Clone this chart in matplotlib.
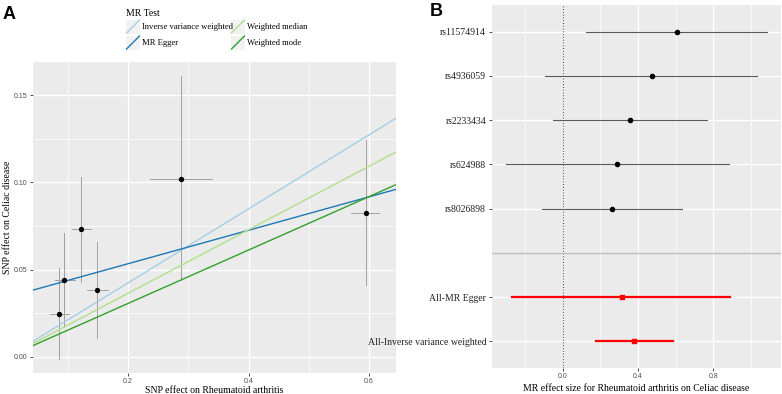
import numpy as np
import matplotlib.pyplot as plt
from matplotlib.lines import Line2D
from matplotlib.patches import Rectangle

# ---- panel A data: SNP effects on exposure (RA) and outcome (Celiac)
bx = [0.0855, 0.0938, 0.1217, 0.148, 0.2878, 0.5945]
bx_lo = [0.070, 0.078, 0.106, 0.131, 0.237, 0.571]
bx_hi = [0.102, 0.112, 0.138, 0.166, 0.339, 0.617]
by = [0.0245, 0.044, 0.0732, 0.038, 0.1017, 0.0822]
by_lo = [-0.0015, 0.017, 0.043, 0.0107, 0.044, 0.041]
by_hi = [0.051, 0.0707, 0.103, 0.066, 0.161, 0.124]

methods = ["Inverse variance weighted", "MR Egger", "Weighted median", "Weighted mode"]
slopes = [0.212, 0.0958, 0.182, 0.153]
intercepts = [0.0, 0.0342, 0.0, 0.0]
colors = ["#A6CEE3", "#1F78B4", "#B2DF8A", "#33A02C"]

# ---- panel B data: forest plot
labels = ["All-Inverse variance weighted", "All-MR Egger", "",
          "rs8026898", "rs624988", "rs2233434", "rs4936059", "rs11574914"]
est = [0.38, 0.313, np.nan, 0.26, 0.288, 0.356, 0.473, 0.605]
lo = [0.175, -0.268, np.nan, -0.112, -0.305, -0.051, -0.094, 0.122]
hi = [0.584, 0.889, np.nan, 0.635, 0.885, 0.765, 1.035, 1.087]

serif = "Liberation Serif"
sans = "Liberation Sans"
bg = "#EBEBEB"
W, H = 782, 394

fig = plt.figure(figsize=(W / 100, H / 100), dpi=100)


def px_axes(x0, y0, x1, y1):
    return fig.add_axes([x0 / W, 1 - y1 / H, (x1 - x0) / W, (y1 - y0) / H])


def gg_style(ax):
    ax.set_facecolor(bg)
    for s in ax.spines.values():
        s.set_visible(False)
    ax.grid(True, which="major", color="white", lw=1.0)
    ax.grid(True, which="minor", color="white", lw=0.5)
    ax.set_axisbelow(True)
    ax.tick_params(which="major", length=2.2, width=0.6, color="#333333",
                   labelsize=5.0, labelcolor="#4D4D4D", pad=1.5)
    ax.tick_params(which="minor", length=0)
    for t in ax.get_xticklabels() + ax.get_yticklabels():
        t.set_family(sans)


# ---------------- Panel A
axA = px_axes(33, 62, 396, 373)
xmin, xmax = 0.042, 0.645
axA.set_xlim(xmin, xmax)
axA.set_ylim(-0.0093, 0.169)
axA.set_xticks([0.2, 0.4, 0.6])
axA.set_xticks([0.1, 0.3, 0.5], minor=True)
axA.set_yticks([0.0, 0.05, 0.10, 0.15])
axA.set_yticks([0.025, 0.075, 0.125], minor=True)
axA.set_xticklabels(["0.2", "0.4", "0.6"])
axA.set_yticklabels(["0.00", "0.05", "0.10", "0.15"])
gg_style(axA)

for i in range(len(bx)):
    axA.plot([bx[i], bx[i]], [by_lo[i], by_hi[i]], color="#A0A0A0", lw=0.7, zorder=2)
    axA.plot([bx_lo[i], bx_hi[i]], [by[i], by[i]], color="#A0A0A0", lw=0.7, zorder=2)

xs = np.array([xmin, xmax])
for m, b, a, c in zip(methods, slopes, intercepts, colors):
    axA.plot(xs, a + b * xs, color=c, lw=1.0, zorder=3)

axA.scatter(bx, by, s=8, color="black", zorder=4)
axA.set_xlabel("SNP effect on Rheumatoid arthritis", family=serif, fontsize=7, labelpad=0.5)
axA.set_ylabel("SNP effect on Celiac disease", family=serif, fontsize=7)
axA.yaxis.set_label_coords(-0.058, 0.5)

# ---------------- Panel B
axB = px_axes(492, 5, 781, 368)
axB.set_xlim(-0.377, 1.16)
axB.set_ylim(0.4, 8.6)
pos = np.arange(1, len(labels) + 1)
axB.set_xticks([0.0, 0.4, 0.8])
axB.set_xticks([-0.2, 0.2, 0.6, 1.0], minor=True)
axB.set_xticklabels(["0.0", "0.4", "0.8"])
keep = [i for i in range(len(labels)) if labels[i]]
axB.set_yticks(pos[keep])
axB.set_yticklabels([labels[i] for i in keep])
gg_style(axB)
axB.grid(False, which="minor", axis="y")
axB.tick_params(axis="y", labelsize=7, labelcolor="#222222", pad=2)
for t in axB.get_yticklabels():
    t.set_family(serif)

axB.axvline(0, color="#555555", lw=0.8, ls=(0, (1, 1.5)), zorder=2)
axB.axhline(3, color="#BEBEBE", lw=1.0, zorder=2)
for i in range(len(labels)):
    if np.isnan(est[i]):
        continue
    if labels[i].startswith("All"):
        axB.plot([lo[i], hi[i]], [pos[i], pos[i]], color="#FF0000", lw=1.6, zorder=3)
        axB.scatter([est[i]], [pos[i]], marker="s", s=9, color="#FF0000", zorder=4)
    else:
        axB.plot([lo[i], hi[i]], [pos[i], pos[i]], color="#5A5A5A", lw=0.8, zorder=3)
        axB.scatter([est[i]], [pos[i]], s=9, color="black", zorder=4)

axB.set_xlabel("MR effect size for Rheumatoid arthritis on Celiac disease",
               family=serif, fontsize=7, labelpad=3)

# ---------------- legend and panel letters
ov = fig.add_axes([0, 0, 1, 1], facecolor="none")
ov.set_xlim(0, W)
ov.set_ylim(H, 0)
ov.axis("off")
ov.text(126, 13, "MR Test", family=serif, fontsize=7, va="center", ha="left")
key_pos = [(126, 26.5), (126, 42.5), (231, 26.5), (231, 42.5)]
for (kx, ky), m, c in zip(key_pos, methods, colors):
    ov.add_patch(Rectangle((kx, ky - 7), 14, 14, facecolor="#F2F2F2", edgecolor="none"))
    ov.add_line(Line2D([kx + 0.5, kx + 13.5], [ky + 6.5, ky - 6.5], color=c, lw=1.0))
    ov.text(kx + 16, ky, m, family=serif, fontsize=6.2, va="center", ha="left")

ov.text(3, 14, "A", family=sans, fontweight="bold", fontsize=13, va="center", ha="left")
ov.text(430, 11, "B", family=sans, fontweight="bold", fontsize=13, va="center", ha="left")

fig.savefig("out.png", dpi=100)
